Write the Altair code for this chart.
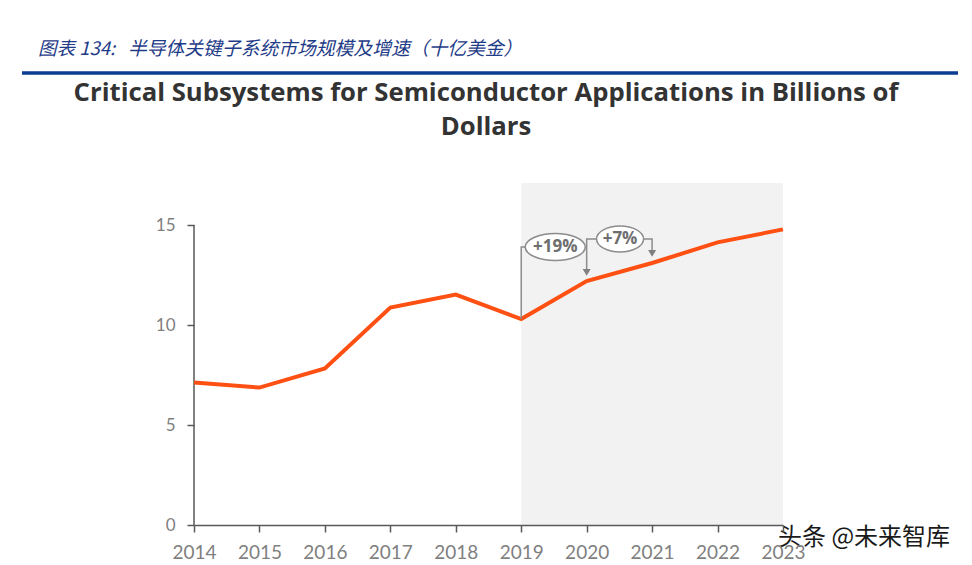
import altair as alt
import pandas as pd

# ---- data ----
years = [2014, 2015, 2016, 2017, 2018, 2019, 2020, 2021, 2022, 2023]
values = [7.12, 6.87, 7.83, 10.87, 11.52, 10.3, 12.2, 13.1, 14.13, 14.78]
y_ticks = [0, 5, 10, 15]

shade_start = [2019]
shade_end = [2023]
shade_top = [17.1]

growth_labels = ["+19%", "+7%"]
growth_x = [2019.52, 2020.51]
growth_y = [13.9, 14.3]

bracket_id = ["a", "a", "a", "b", "b", "b", "c", "c", "c"]
bracket_order = [0, 1, 2, 0, 1, 2, 0, 1, 2]
bracket_x = [2019, 2019, 2019.52, 2020.51, 2020, 2020, 2020.51, 2021, 2021]
bracket_y = [10.3, 13.9, 13.9, 14.3, 14.3, 12.63, 14.3, 14.3, 13.58]
arrow_x = [2020, 2021]
arrow_y = [12.63, 13.58]

header_label = "图表 134:"
header_text = "半导体关键子系统市场规模及增速（十亿美金）"
title_lines = ["Critical Subsystems for Semiconductor Applications in Billions of", "Dollars"]
watermark = "头条 @未来智库"

# ---- layout ----
W, H = 589, 342
PAD_L, PAD_T = 194, 183

xscale = alt.Scale(domain=[2014, 2023], nice=False, zero=False)
yscale = alt.Scale(domain=[0, 17.1], nice=False, zero=True)

xaxis = alt.Axis(values=years, format="d", title=None, grid=False,
                 labelFont="Lato", labelFontSize=19, labelColor="#7f7f7f",
                 tickSize=7, tickColor="#595959", tickWidth=1.5,
                 domainColor="#595959", domainWidth=1.5,
                 labelPadding=11, labelFlush=False, labelOverlap=False, zindex=1)
yaxis = alt.Axis(values=y_ticks, title=None, grid=False, domain=False,
                 labelFont="Lato", labelFontSize=17, labelColor="#7f7f7f",
                 tickSize=7, tickColor="#595959", tickWidth=1.5,
                 labelPadding=12, labelFlush=False, zindex=1)

def X(field):
    return alt.X(field, type="quantitative", scale=xscale, axis=xaxis)

def Y(field):
    return alt.Y(field, type="quantitative", scale=yscale, axis=yaxis)

shade_df = pd.DataFrame({"x": shade_start, "x2": shade_end, "y": [0], "y2": shade_top})
shade = alt.Chart(shade_df).mark_rect(color="#f2f2f2").encode(
    x=X("x"), x2="x2", y=Y("y"), y2="y2")

yline_df = pd.DataFrame({"x": [years[0]], "y": [y_ticks[0]], "y2": [y_ticks[-1]]})
yline = alt.Chart(yline_df).mark_rule(color="#595959", strokeWidth=1.5).encode(
    x=X("x"), y=Y("y"), y2="y2")

line_df = pd.DataFrame({"year": years, "value": values})
line = alt.Chart(line_df).mark_line(color="#ff5014", strokeWidth=4, strokeJoin="miter").encode(
    x=X("year"), y=Y("value"))

br_df = pd.DataFrame({"id": bracket_id, "o": bracket_order, "x": bracket_x, "y": bracket_y})
brackets = alt.Chart(br_df).mark_line(color="#8c8c8c", strokeWidth=1.5).encode(
    x=X("x"), y=Y("y"), detail="id:N", order="o:Q")

ar_df = pd.DataFrame({"x": arrow_x, "y": arrow_y})
arrows = alt.Chart(ar_df).mark_point(shape="triangle-down", filled=True, color="#7f7f7f",
                                     size=64, opacity=1).encode(x=X("x"), y=Y("y"))

e1_df = pd.DataFrame({"x": growth_x[:1], "y": growth_y[:1]})
e2_df = pd.DataFrame({"x": growth_x[1:], "y": growth_y[1:]})
ell1 = alt.Chart(e1_df).mark_point(
    shape="M-1,0A1,0.45,0,1,1,1,0A1,0.45,0,1,1,-1,0Z", size=3600,
    filled=True, fill="white", stroke="#8c8c8c", strokeWidth=1.5, opacity=1
).encode(x=X("x"), y=Y("y"))
ell2 = alt.Chart(e2_df).mark_point(
    shape="M-1,0A1,0.55,0,1,1,1,0A1,0.55,0,1,1,-1,0Z", size=2209,
    filled=True, fill="white", stroke="#8c8c8c", strokeWidth=1.5, opacity=1
).encode(x=X("x"), y=Y("y"))

g_df = pd.DataFrame({"x": growth_x, "y": growth_y, "t": growth_labels})
gtext = alt.Chart(g_df).mark_text(font="Open Sans", fontSize=17, fontWeight="bold",
                                  color="#6e6e6e", baseline="middle", align="center").encode(
    x=X("x"), y=Y("y"), text="t:N")

def label(text, x, y, **kw):
    df = pd.DataFrame({"t": [text]})
    return alt.Chart(df).mark_text(**kw).encode(
        x=alt.value(x - PAD_L), y=alt.value(y - PAD_T), text="t:N")

header1 = label(header_label, 38, 49, font="Noto Sans CJK SC", fontSize=18.5,
                fontStyle="italic", color="#1f3c88", align="left", baseline="middle")
header2 = label(header_text, 128, 49, font="Noto Sans CJK SC", fontSize=18.8,
                fontStyle="italic", color="#1f3c88", align="left", baseline="middle")

rule_df = pd.DataFrame({"a": [0]})
blue_rule = alt.Chart(rule_df).mark_rule(color="#0b3d91", strokeWidth=3.5).encode(
    x=alt.value(22 - PAD_L), x2=alt.value(958 - PAD_L), y=alt.value(73 - PAD_T))

title1 = label(title_lines[0], 486, 93, font="Open Sans", fontSize=25.7, fontWeight="bold",
               color="#333333", align="center", baseline="middle")
title2 = label(title_lines[1], 486, 127, font="Open Sans", fontSize=25.7, fontWeight="bold",
               color="#333333", align="center", baseline="middle")
wm = label(watermark, 778, 538, font="Noto Sans CJK SC", fontSize=24,
           color="#1a1a1a", align="left", baseline="middle")

chart = alt.layer(
    shade, yline, line, brackets, arrows, ell1, ell2, gtext,
    header1, header2, blue_rule, title1, title2, wm
).properties(
    width=W, height=H,
    autosize=alt.AutoSizeParams(type="none"),
    padding={"left": PAD_L, "top": PAD_T, "right": 972 - PAD_L - W, "bottom": 565 - PAD_T - H},
    background="white",
).configure_view(stroke=None)

chart.save("out.html", embed_options={"renderer": "svg", "actions": False})
